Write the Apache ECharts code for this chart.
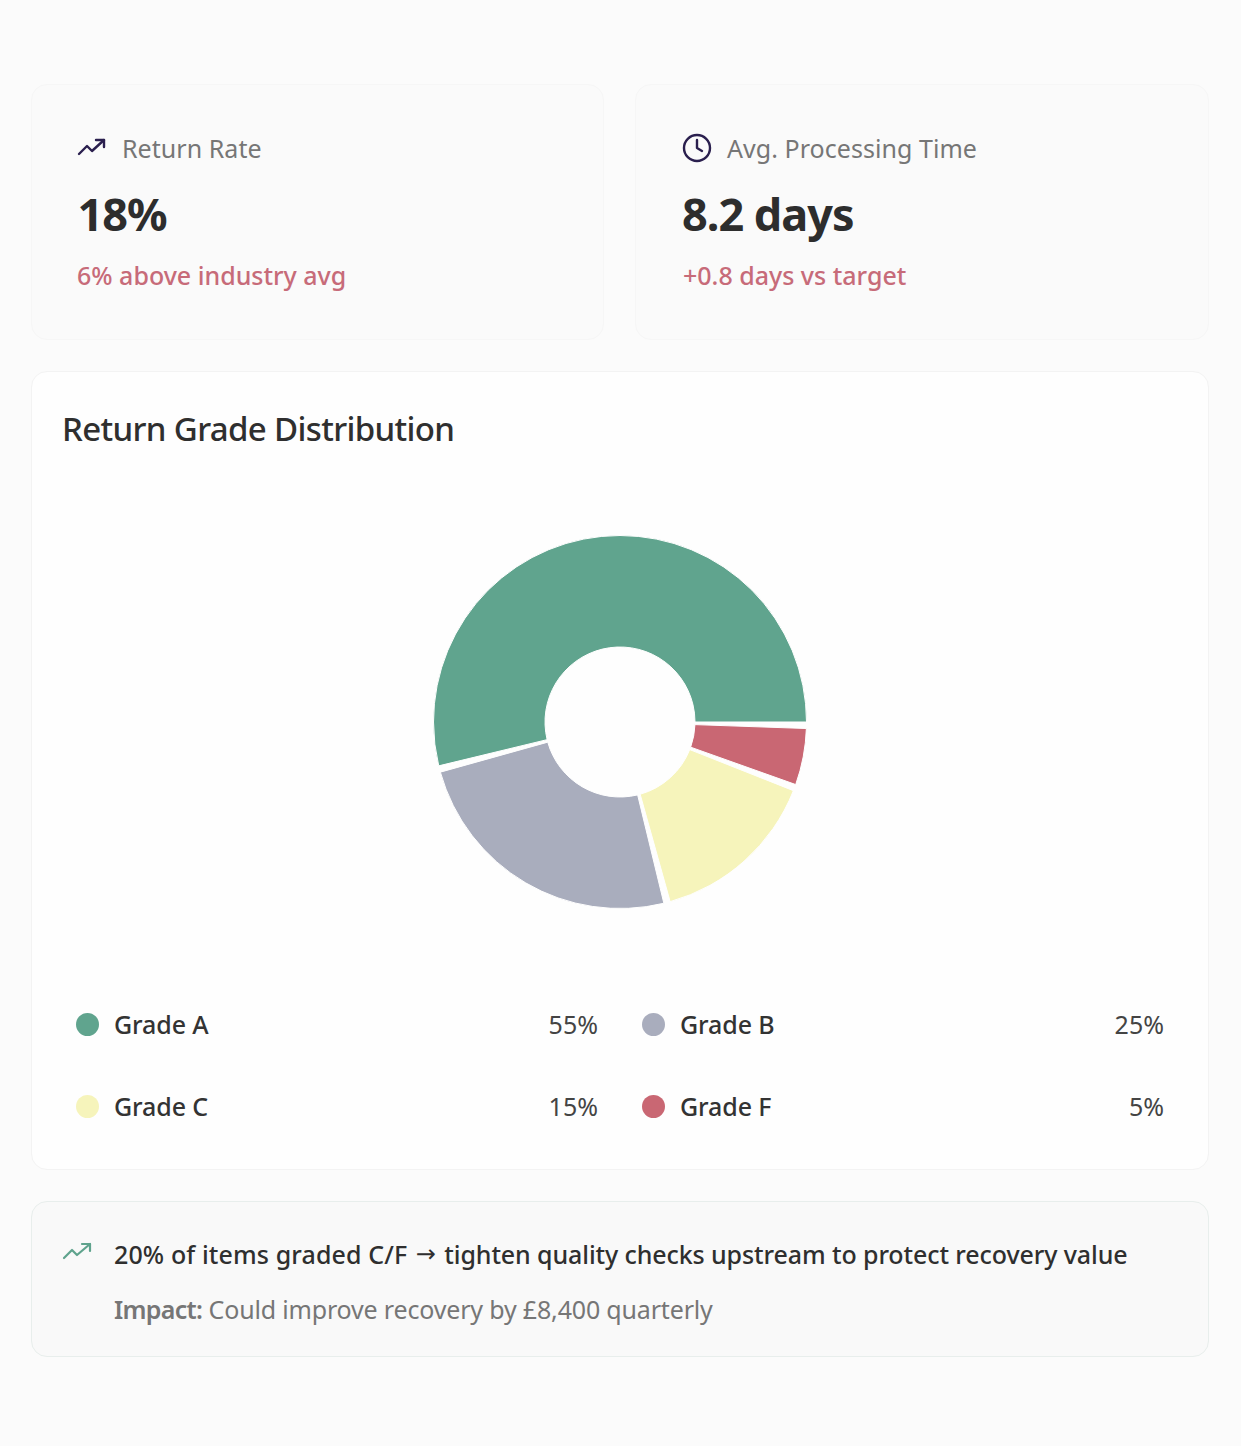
<!DOCTYPE html>
<html><head><meta charset="utf-8">
<script src="https://cdn.jsdelivr.net/npm/echarts@6/dist/echarts.min.js"></script>
<style>
html,body{margin:0;padding:0;background:#fbfbfb;width:1241px;height:1446px;overflow:hidden;font-family:"Noto Sans","Open Sans",sans-serif;color:#2f2f2f}
.abs{position:absolute;white-space:nowrap;line-height:1}
.card{position:absolute;box-sizing:border-box}
.metric{top:84px;width:573px;height:256px;background:#fafafa;border:1px solid #f6f6f6;border-radius:16px}
.lab{font-size:25px;color:#767676;top:136px;letter-spacing:.05px}
.val{font-size:45px;font-weight:700;color:#2d2d2d;top:191px;letter-spacing:-1px}
.sub{font-size:25px;font-weight:500;color:#c76b79;top:263px}
.item{position:absolute;width:550px;height:68px;background:#fefefe;border-radius:10px}
.dot{position:absolute;left:14px;top:21px;width:23px;height:23px;border-radius:50%}
.name{position:absolute;left:52px;top:17px;font-size:25px;font-weight:500;line-height:30px;color:#333;letter-spacing:-.1px}
.pct{position:absolute;right:14px;top:17px;font-size:25px;line-height:30px;color:#444}
</style></head><body>
<div class="card metric" style="left:31px"></div>
<div class="card metric" style="left:635px;width:574px"></div>
<svg class="abs" style="left:77px;top:134px" width="30" height="30" viewBox="0 0 30 30" fill="none" stroke="#2a1f4e" stroke-width="2.4" stroke-linecap="round" stroke-linejoin="round"><path d="M2 20 L10 12 L15 17 L27 6"/><path d="M19 6 H27 V13"/></svg>
<div class="abs lab" style="left:122px">Return Rate</div>
<div class="abs val" style="left:77.5px">18%</div>
<div class="abs sub" style="left:77px">6% above industry avg</div>
<svg class="abs" style="left:682px;top:133px" width="30" height="30" viewBox="0 0 30 30" fill="none" stroke="#2a1f4e" stroke-width="2.4" stroke-linecap="round" stroke-linejoin="round"><circle cx="15" cy="15" r="13"/><path d="M15 7 V15 L20 18"/></svg>
<div class="abs lab" style="left:727px">Avg. Processing Time</div>
<div class="abs val" style="left:682px">8.2 days</div>
<div class="abs sub" style="left:683px">+0.8 days vs target</div>

<div class="card" style="left:31px;top:371px;width:1178px;height:799px;background:#fefefe;border:1px solid #f3f3f3;border-radius:16px"></div>
<div class="abs" style="left:62px;top:412px;font-size:33px;color:#2f2f2f;font-weight:500;letter-spacing:-.65px">Return Grade Distribution</div>
<div id="chart" style="position:absolute;left:32px;top:480px;width:1176px;height:490px"></div>
<div id="legend"></div>

<div class="card" style="left:31px;top:1201px;width:1178px;height:156px;background:#f9f9f9;border:1.5px solid #e8eeec;border-radius:16px"></div>
<svg class="abs" style="left:62px;top:1238px" width="30" height="30" viewBox="0 0 30 30" fill="none" stroke="#5fa38d" stroke-width="2.2" stroke-linecap="round" stroke-linejoin="round"><path d="M2 20 L10 12 L15 17 L28 6"/><path d="M20 6 H28 V13"/></svg>
<div class="abs" style="left:114px;top:1242px;font-size:25px;font-weight:500;color:#2f2f2f"><span style="letter-spacing:.12px">20% of items graded C/F</span><span style="display:inline-block;width:37px;text-align:center;font-family:'DejaVu Sans';font-size:24px;letter-spacing:0;position:relative;top:-2px">→</span><span style="letter-spacing:-.1px">tighten quality checks upstream to protect recovery value</span></div>
<div class="abs" style="left:114px;top:1297px;font-size:25px;color:#767676;letter-spacing:-.17px"><b style="font-weight:600;letter-spacing:-.7px">Impact:</b> Could improve recovery by £8,400 quarterly</div>
<script>
const grades = ["Grade A","Grade B","Grade C","Grade F"];
const shares = [55,25,15,5];
const colors = ["#60a48e","#a9adbd","#f6f4bb","#c96773"];
const legendLeft = [62,628,62,628];
const legendTop = [992,992,1074,1074];
const lg = document.getElementById('legend');
grades.forEach((g,i)=>{
  const d=document.createElement('div');d.className='item';
  d.style.left=legendLeft[i]+'px';d.style.top=legendTop[i]+'px';
  d.innerHTML='<span class="dot" style="background:'+colors[i]+'"></span><span class="name">'+g+'</span><span class="pct">'+shares[i]+'%</span>';
  lg.appendChild(d);
});
// One pie series per grade: sweep comes from the share, with a fixed angular gap after each slice.
const gapDeg = 2;
const total = shares.reduce((a,b)=>a+b,0);
const sweepPerUnit = (360 - gapDeg*shares.length)/total;
let cursor = 0;
const series = grades.map((g,i)=>{
  const start = cursor, end = cursor + shares[i]*sweepPerUnit;
  cursor = end + gapDeg;
  return {type:'pie',name:g,center:[588,242],radius:[75,186.5],startAngle:start,endAngle:end,clockwise:false,
    label:{show:false},labelLine:{show:false},
    itemStyle:{borderColor:'#fefefe',borderWidth:1},
    data:[{name:g,value:shares[i],itemStyle:{color:colors[i]}}]};
});
const chart = echarts.init(document.getElementById('chart'),null,{renderer:'canvas'});
chart.setOption({animation:false,series});
</script>
</body></html>
